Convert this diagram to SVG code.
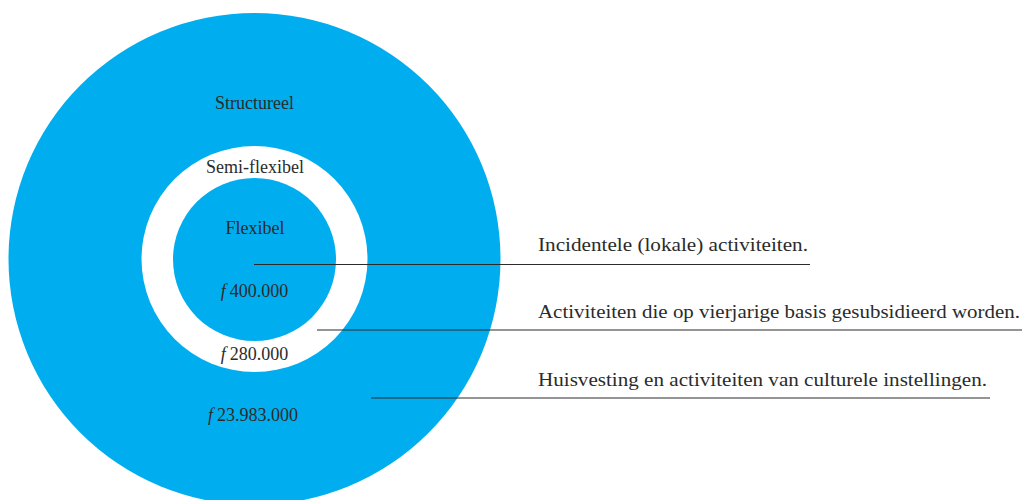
<svg xmlns="http://www.w3.org/2000/svg" width="1023" height="500" viewBox="0 0 1023 500">
<style>
.t{font-family:"Liberation Serif","Times New Roman",serif;fill:#2b2b2b;}
.c{text-anchor:middle;font-size:18px;}
.l{font-size:19.5px;}
.blue{fill:#00AEEF;}
.ln{stroke:#2b2b2b;stroke-width:1.2;fill:none;}
</style>
<rect width="1023" height="500" fill="#ffffff"/>
<g id="structureel">
<circle class="blue" cx="254.5" cy="259" r="246"/>
<text class="t c" x="254.5" y="109">Structureel</text>
<text class="t c" x="253" y="421"><tspan font-style="italic">f</tspan><tspan dx="4">23.983.000</tspan></text>
</g>
<g id="semi-flexibel">
<circle fill="#ffffff" cx="254.5" cy="259" r="113"/>
<text class="t c" x="255" y="172.5">Semi-flexibel</text>
<text class="t c" x="254.5" y="360"><tspan font-style="italic">f</tspan><tspan dx="4">280.000</tspan></text>
</g>
<g id="flexibel">
<circle class="blue" cx="254.5" cy="259.5" r="81.5"/>
<text class="t c" x="255" y="234">Flexibel</text>
<text class="t c" x="254.5" y="297"><tspan font-style="italic">f</tspan><tspan dx="4">400.000</tspan></text>
</g>
<g id="connectors">
<line class="ln" x1="254" y1="264.5" x2="810" y2="264.5"/>
<line class="ln" x1="317" y1="330" x2="1022" y2="330"/>
<line class="ln" x1="371" y1="398" x2="990" y2="398"/>
</g>
<g id="labels">
<text class="t l" x="538" y="251" textLength="270" lengthAdjust="spacingAndGlyphs">Incidentele (lokale) activiteiten.</text>
<text class="t l" x="538" y="318" textLength="482" lengthAdjust="spacingAndGlyphs">Activiteiten die op vierjarige basis gesubsidieerd worden.</text>
<text class="t l" x="538" y="386" textLength="449" lengthAdjust="spacingAndGlyphs">Huisvesting en activiteiten van culturele instellingen.</text>
</g>
</svg>
